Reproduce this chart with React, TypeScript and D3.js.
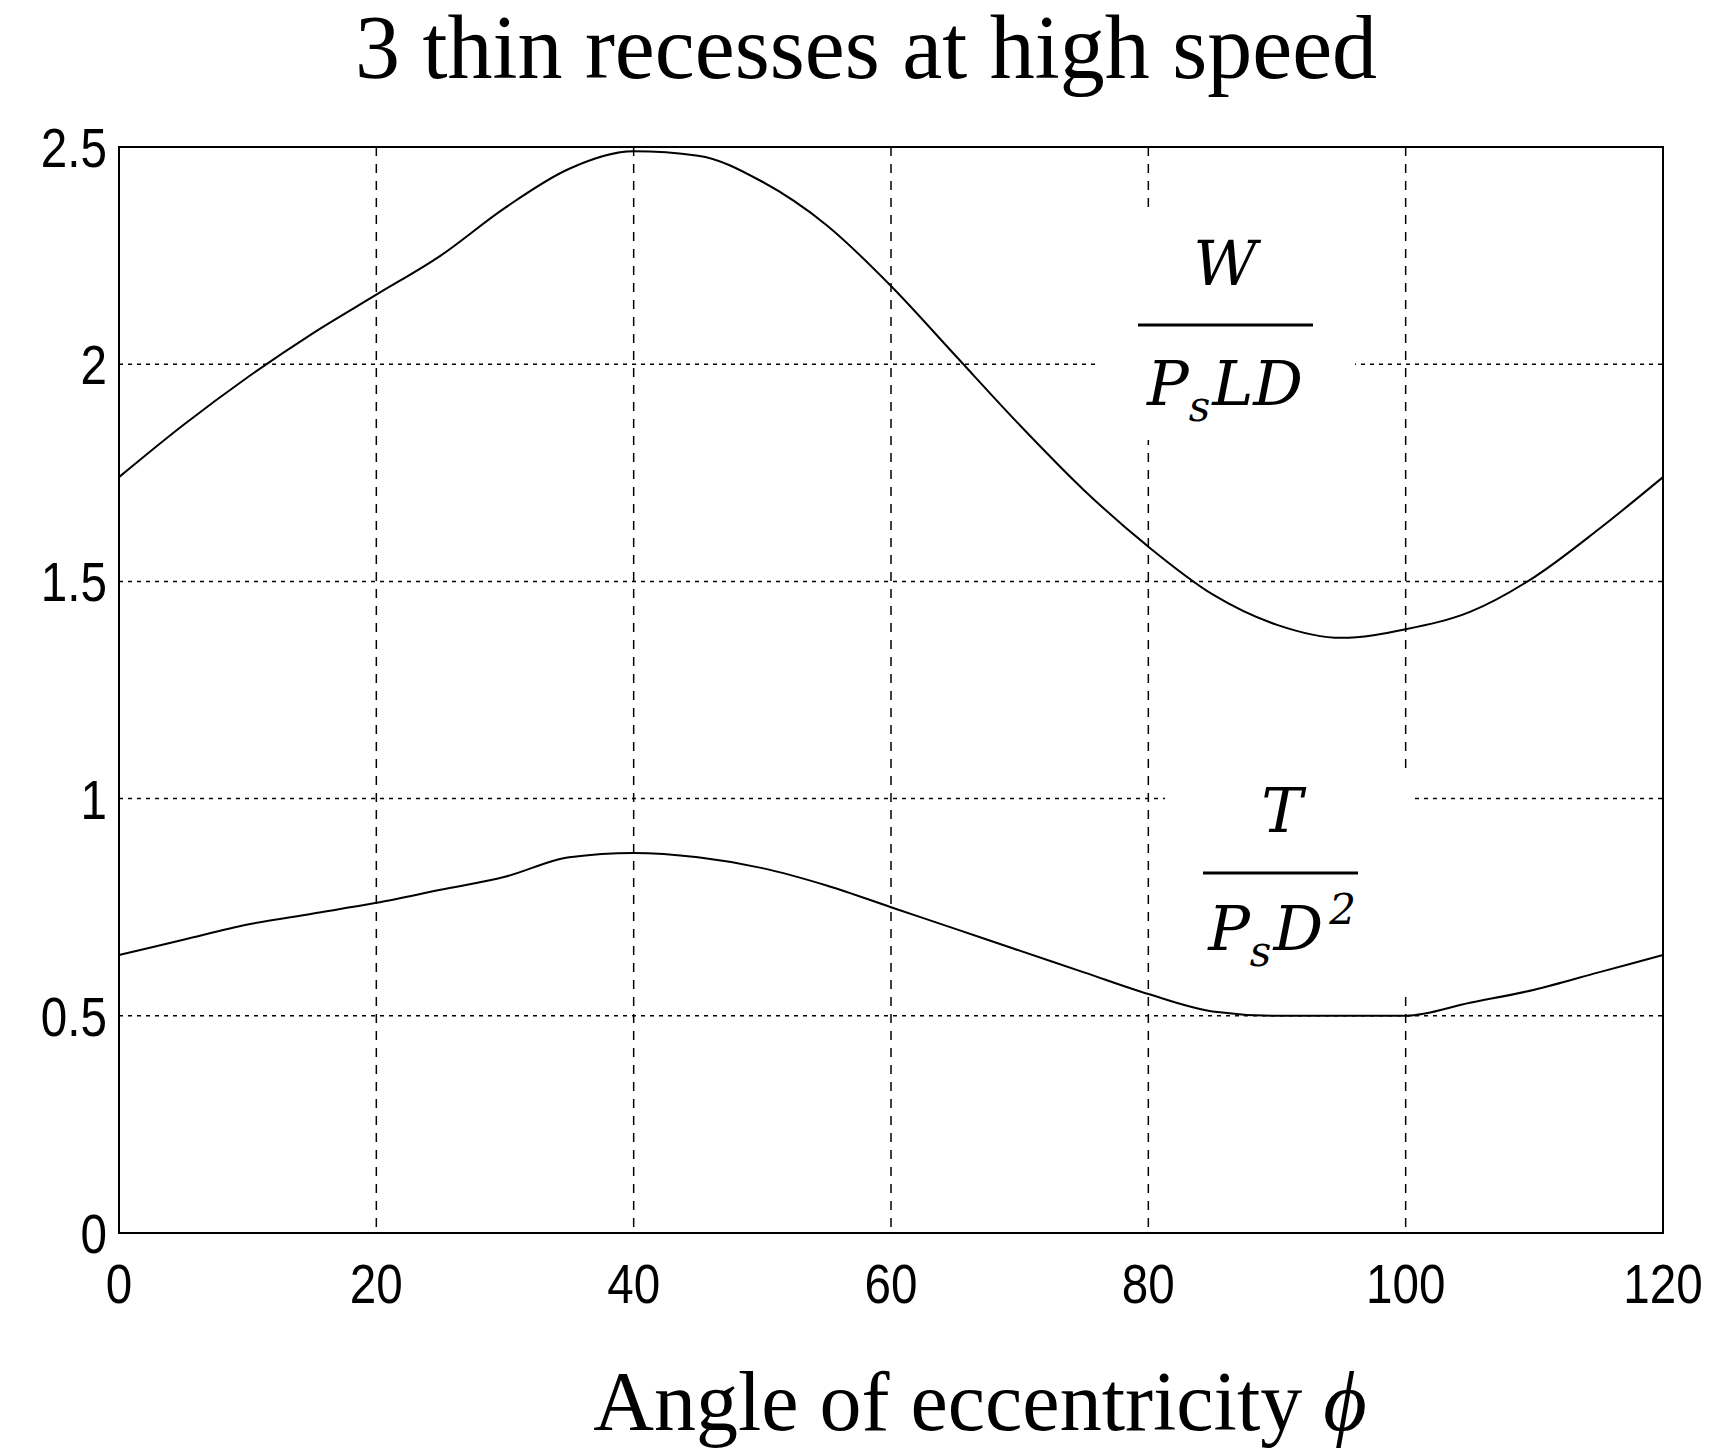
import React from 'react';
import * as d3 from 'd3';

const angles = [0, 5, 10, 15, 20, 25, 30, 35, 40, 45, 50, 55, 60, 65, 70, 75, 80, 85, 90, 95, 100, 105, 110, 115, 120];
const loadW = [1.74, 1.86, 1.97, 2.07, 2.16, 2.25, 2.36, 2.45, 2.49, 2.48, 2.42, 2.32, 2.18, 2.02, 1.86, 1.71, 1.58, 1.47, 1.40, 1.37, 1.39, 1.43, 1.51, 1.62, 1.74];
const torqueT = [0.64, 0.675, 0.71, 0.735, 0.76, 0.79, 0.82, 0.865, 0.875, 0.865, 0.84, 0.80, 0.75, 0.70, 0.65, 0.60, 0.55, 0.51, 0.50, 0.50, 0.50, 0.53, 0.56, 0.60, 0.64];
const xTicks = [0, 20, 40, 60, 80, 100, 120];
const yTicks = [0, 0.5, 1, 1.5, 2, 2.5];
const yTickLabels = ['0', '0.5', '1', '1.5', '2', '2.5'];

const L = 119, R = 1663, T = 147, B = 1233;

export default function App() {
  const x = d3.scaleLinear().domain([0, 120]).range([L, R]);
  const y = d3.scaleLinear().domain([0, 2.5]).range([B, T]);
  const line = d3.line<number>().x((_, i) => x(angles[i])).y(d => y(d)).curve(d3.curveMonotoneX);
  const tickFont = { fontFamily: 'Liberation Sans, Arial, sans-serif', fontSize: 56 };
  const mathFont = { fontFamily: 'DejaVu Serif, serif', fontStyle: 'italic' as const, fontSize: 62 };
  const squeeze = (cx: number) => `translate(${cx},0) scale(0.85,1) translate(${-cx},0)`;
  return (
    <svg width={1720} height={1456} style={{ display: 'block', margin: -8 }}>
      <rect width={1720} height={1456} fill="#fff" />
      <text x={866} y={78} textAnchor="middle" fontFamily="Liberation Serif, serif" fontSize={90}>3 thin recesses at high speed</text>
      {xTicks.map(t => (
        <g key={'x' + t}>
          <line x1={x(t)} x2={x(t)} y1={T} y2={B} stroke="#000" strokeWidth={1.5} strokeDasharray="9,8" />
          <text x={x(t)} y={B + 70} textAnchor="middle" {...tickFont} transform={squeeze(x(t))}>{t}</text>
        </g>
      ))}
      {yTicks.map((t, i) => (
        <g key={'y' + t}>
          <line x1={L} x2={R} y1={y(t)} y2={y(t)} stroke="#000" strokeWidth={1.5} strokeDasharray="4,5" />
          <text x={L - 12} y={y(t) + 20} textAnchor="end" {...tickFont} transform={squeeze(L - 12)}>{yTickLabels[i]}</text>
        </g>
      ))}
      <rect x={1095} y={210} width={260} height={230} fill="#fff" />
      <rect x={1165} y={775} width={250} height={215} fill="#fff" />
      <rect x={L} y={T} width={R - L} height={B - T} fill="none" stroke="#000" strokeWidth={2} />
      <path d={line(loadW) || ''} fill="none" stroke="#000" strokeWidth={2} />
      <path d={line(torqueT) || ''} fill="none" stroke="#000" strokeWidth={2} />
      <text x={1225} y={285} textAnchor="middle" {...mathFont}>W</text>
      <line x1={1138} x2={1313} y1={325} y2={325} stroke="#000" strokeWidth={3} />
      <text x={1225} y={405} textAnchor="middle" {...mathFont}>P<tspan fontSize={42} dy={16}>s</tspan><tspan dy={-16} dx={2}>LD</tspan></text>
      <text x={1282} y={832} textAnchor="middle" {...mathFont}>T</text>
      <line x1={1203} x2={1358} y1={873} y2={873} stroke="#000" strokeWidth={3} />
      <text x={1282} y={950} textAnchor="middle" {...mathFont}>P<tspan fontSize={42} dy={16}>s</tspan><tspan dy={-16} dx={2}>D</tspan><tspan fontSize={42} dy={-26} dx={6}>2</tspan></text>
      <text x={980} y={1430} textAnchor="middle" fontFamily="Liberation Serif, serif" fontSize={84}>Angle of eccentricity <tspan fontStyle="italic">ϕ</tspan></text>
    </svg>
  );
}
